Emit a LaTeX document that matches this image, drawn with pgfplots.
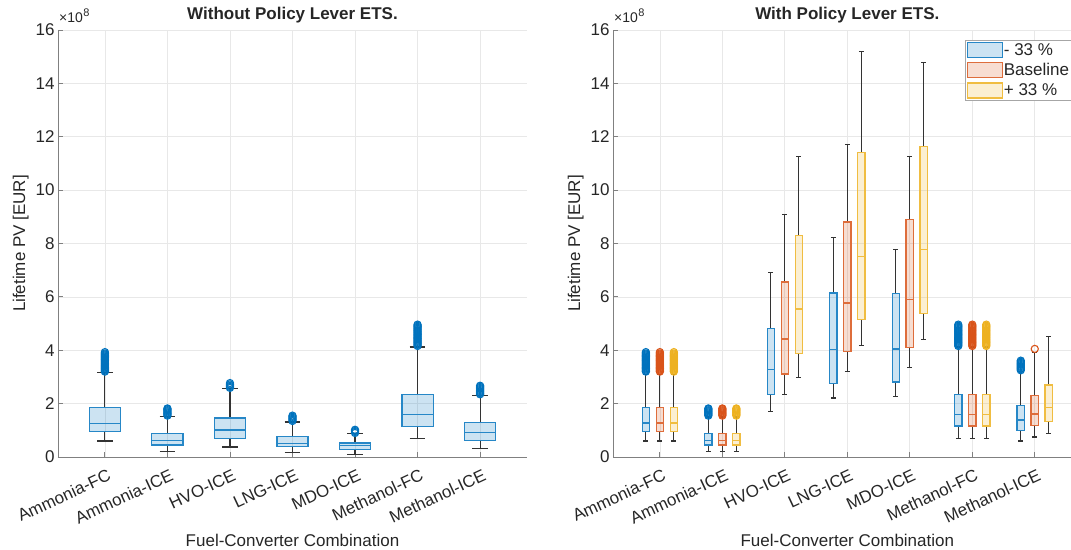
\documentclass[border=0pt]{standalone}
\usepackage{fontspec}
\setmainfont{Liberation Sans}
\usepackage{pgfplots}
\usepackage{pgfplotstable}
\pgfplotsset{compat=1.18}
\usepgfplotslibrary{statistics}
\definecolor{c1}{rgb}{0,0.447,0.741}
\definecolor{c2}{rgb}{0.85,0.325,0.098}
\definecolor{c3}{rgb}{0.929,0.694,0.125}
\definecolor{axgray}{gray}{0.5}
\definecolor{txt}{gray}{0.15}

% outliers (x 1e8)
\pgfplotstableread[row sep=\\]{y\\3.20\\3.24\\3.28\\3.32\\3.36\\3.40\\3.44\\3.48\\3.52\\3.56\\3.60\\3.64\\3.68\\3.72\\3.76\\3.80\\3.84\\3.88\\3.93\\}\oAFC
\pgfplotstableread[row sep=\\]{y\\1.55\\1.59\\1.63\\1.67\\1.71\\1.75\\1.79\\1.82\\}\oAICE
\pgfplotstableread[row sep=\\]{y\\2.59\\2.63\\2.67\\2.72\\2.77\\}\oHVO
\pgfplotstableread[row sep=\\]{y\\1.35\\1.39\\1.43\\1.47\\1.51\\1.55\\}\oLNG
\pgfplotstableread[row sep=\\]{y\\0.90\\0.94\\0.98\\1.02\\}\oMDO
\pgfplotstableread[row sep=\\]{y\\4.16\\4.20\\4.24\\4.28\\4.32\\4.36\\4.40\\4.44\\4.48\\4.52\\4.56\\4.60\\4.64\\4.68\\4.72\\4.76\\4.80\\4.84\\4.88\\4.92\\4.96\\}\oMFC
\pgfplotstableread[row sep=\\]{y\\2.35\\2.39\\2.43\\2.47\\2.51\\2.55\\2.59\\2.63\\2.67\\}\oMICE
\pgfplotstableread[row sep=\\]{y\\3.25\\3.29\\3.33\\3.37\\3.41\\3.45\\3.49\\3.53\\3.57\\3.61\\}\oMICEb
\pgfplotstableread[row sep=\\]{y\\4.05\\}\oMICEo

\newcommand{\fs}{\fontsize{17}{20}\selectfont}
\newcommand{\expo}{{\fontsize{14}{16}\selectfont ×10\kern0.5pt\raisebox{5.5pt}{\fontsize{11}{12}\selectfont 8}}}

\pgfplotsset{
  ser/.style={
    draw=#1, color=#1,
    mark=o, mark size=3.6pt,
    mark options={draw=#1, fill=none, line width=1.1pt, solid},
    boxplot/draw direction=y,
    boxplot/every box/.style={draw=#1!85!white, fill=#1, fill opacity=0.2, line width=1.3pt},
    boxplot/every median/.style={draw=#1!85!white, line width=1.3pt},
    boxplot/every whisker/.style={draw=black!80, line width=1.1pt},
  },
  myaxis/.style={
    scale only axis, height=427pt,
    ymin=0, ymax=16, ytick={0,2,...,16},
    xtick={1,...,7},
    xticklabels={Ammonia-FC,Ammonia-ICE,HVO-ICE,LNG-ICE,MDO-ICE,Methanol-FC,Methanol-ICE},
    xmin=0.25,
    clip mode=individual,
    axis lines=left, axis line style={-, draw=axgray, line width=0.8pt},
    tick align=inside, major tick length=5pt, tick style={draw=axgray, line width=0.8pt},
    grid=major, grid style={draw=gray!18, line width=0.7pt},
    font=\fs,
    ticklabel style={font=\fs, text=txt},
    /pgf/number format/assume math mode=true,
    xticklabel style={rotate=25, anchor=north east, inner sep=2pt, xshift=-1pt, yshift=-9pt},
    ylabel={Lifetime PV [EUR]},
    label style={text=txt},
    title style={font=\bfseries\fs, text=txt, yshift=-3pt},
  },
}
\newcommand{\bxp}[9]{\addplot[ser=#1, forget plot, boxplot prepared={draw position=#2, lower whisker=#3, lower quartile=#4, median=#5, upper quartile=#6, upper whisker=#7, box extend=#8, whisker extend=#9}]}

\begin{document}
\begin{tikzpicture}
\useasboundingbox (-58pt,-92pt) rectangle (1013pt,457pt);
% ---------------- left ----------------
\begin{axis}[myaxis, at={(0pt,0pt)}, anchor=south west, width=469pt, xmax=7.75,
  title={Without Policy Lever ETS.},
  xlabel={Fuel-Converter Combination},
  xlabel style={at={(axis description cs:0.5,0)}, anchor=north, yshift=-74pt}]
\bxp{c1}{1}{0.60}{0.95}{1.26}{1.85}{3.16}{0.5}{0.25} table[y index=0]{\oAFC};
\bxp{c1}{2}{0.20}{0.45}{0.61}{0.89}{1.52}{0.5}{0.25} table[y index=0]{\oAICE};
\bxp{c1}{3}{0.375}{0.70}{1.01}{1.46}{2.56}{0.5}{0.25} table[y index=0]{\oHVO};
\bxp{c1}{4}{0.17}{0.39}{0.51}{0.77}{1.31}{0.5}{0.25} table[y index=0]{\oLNG};
\bxp{c1}{5}{0.11}{0.275}{0.435}{0.525}{0.87}{0.5}{0.25} table[y index=0]{\oMDO};
\bxp{c1}{6}{0.69}{1.15}{1.59}{2.35}{4.12}{0.5}{0.25} table[y index=0]{\oMFC};
\bxp{c1}{7}{0.31}{0.61}{0.91}{1.30}{2.31}{0.5}{0.25} table[y index=0]{\oMICE};
\node[anchor=base west, text=txt, inner sep=0pt, xshift=1pt, yshift=7.5pt] at (rel axis cs:0,1) {\expo};
\end{axis}
% ---------------- right ----------------
\begin{axis}[myaxis, at={(555pt,0pt)}, anchor=south west, width=458pt, xmax=7.58,
  title={With Policy Lever ETS.},
  title style={at={(axis description cs:0.5116,1)}},
  xlabel={Fuel-Converter Combination},
  xlabel style={at={(axis description cs:0.5116,0)}, anchor=north, yshift=-74pt},
  legend style={at={(rel axis cs:1,1)}, anchor=north east, xshift=1pt, yshift=-10pt,
    draw=gray!70, fill=white, line width=0.8pt, font=\fontsize{17}{20}\selectfont,
    inner sep=1.5pt, row sep=4pt, nodes={inner sep=1pt},
    /tikz/every even column/.append style={column sep=0pt},
    cells={anchor=west, text=txt}},
  legend image code/.code={\draw[#1] (0pt,-7.5pt) rectangle (35pt,7.5pt);}]
\addlegendimage{draw=c1!85!white, fill=c1!20!white, line width=1.3pt}
\addlegendentry{- 33 \%}
\addlegendimage{draw=c2!85!white, fill=c2!20!white, line width=1.3pt}
\addlegendentry{Baseline}
\addlegendimage{draw=c3!85!white, fill=c3!20!white, line width=1.3pt}
\addlegendentry{+ 33 \%}
% Ammonia-FC
\bxp{c1}{0.776}{0.60}{0.96}{1.27}{1.86}{3.10}{0.117}{0.08} table[y index=0]{\oAFC};
\bxp{c2}{1}{0.60}{0.96}{1.27}{1.86}{3.10}{0.117}{0.08} table[y index=0]{\oAFC};
\bxp{c3}{1.224}{0.60}{0.96}{1.27}{1.86}{3.10}{0.117}{0.08} table[y index=0]{\oAFC};
% Ammonia-ICE
\bxp{c1}{1.776}{0.21}{0.45}{0.62}{0.885}{1.50}{0.117}{0.08} table[y index=0]{\oAICE};
\bxp{c2}{2}{0.21}{0.45}{0.62}{0.885}{1.50}{0.117}{0.08} table[y index=0]{\oAICE};
\bxp{c3}{2.224}{0.21}{0.45}{0.62}{0.885}{1.50}{0.117}{0.08} table[y index=0]{\oAICE};
% HVO-ICE
\bxp{c1}{2.776}{1.70}{2.34}{3.29}{4.82}{6.90}{0.117}{0.08} coordinates {};
\bxp{c2}{3}{2.35}{3.11}{4.42}{6.56}{9.08}{0.117}{0.08} coordinates {};
\bxp{c3}{3.224}{2.99}{3.87}{5.55}{8.29}{11.26}{0.117}{0.08} coordinates {};
% LNG-ICE
\bxp{c1}{3.776}{2.21}{2.76}{4.02}{6.15}{8.22}{0.117}{0.08} coordinates {};
\bxp{c2}{4}{3.20}{3.95}{5.77}{8.80}{11.72}{0.117}{0.08} coordinates {};
\bxp{c3}{4.224}{4.18}{5.15}{7.52}{11.42}{15.21}{0.117}{0.08} coordinates {};
% MDO-ICE
\bxp{c1}{4.776}{2.27}{2.81}{4.05}{6.12}{7.76}{0.117}{0.08} coordinates {};
\bxp{c2}{5}{3.34}{4.09}{5.90}{8.89}{11.27}{0.117}{0.08} coordinates {};
\bxp{c3}{5.224}{4.39}{5.37}{7.77}{11.63}{14.77}{0.117}{0.08} coordinates {};
% Methanol-FC
\bxp{c1}{5.776}{0.69}{1.16}{1.59}{2.35}{4.12}{0.117}{0.08} table[y index=0]{\oMFC};
\bxp{c2}{6}{0.69}{1.16}{1.59}{2.35}{4.12}{0.117}{0.08} table[y index=0]{\oMFC};
\bxp{c3}{6.224}{0.69}{1.16}{1.59}{2.35}{4.12}{0.117}{0.08} table[y index=0]{\oMFC};
% Methanol-ICE
\bxp{c1}{6.776}{0.60}{1.00}{1.39}{1.94}{3.20}{0.117}{0.08} table[y index=0]{\oMICEb};
\bxp{c2}{7}{0.75}{1.19}{1.61}{2.31}{3.92}{0.117}{0.08} table[y index=0]{\oMICEo};
\bxp{c3}{7.224}{0.87}{1.34}{1.86}{2.70}{4.50}{0.117}{0.08} coordinates {};
\node[anchor=base west, text=txt, inner sep=0pt, xshift=1pt, yshift=7.5pt] at (rel axis cs:0,1) {\expo};
\end{axis}
\end{tikzpicture}
\end{document}
